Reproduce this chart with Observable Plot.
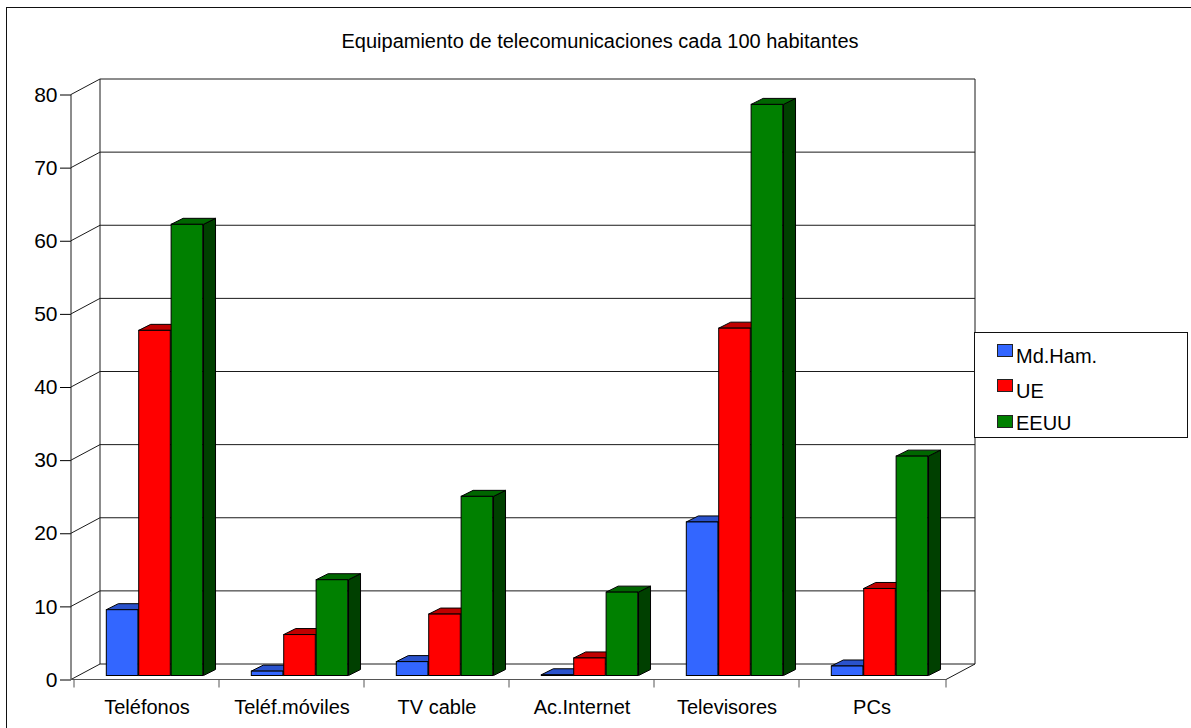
<!DOCTYPE html>
<html>
<head>
<meta charset="utf-8">
<script src="https://cdn.jsdelivr.net/npm/d3@7"></script>
<script src="https://cdn.jsdelivr.net/npm/@observablehq/plot@0.6"></script>
<style>
  html, body { margin: 0; padding: 0; background: #fff; }
  body { font-family: "Liberation Sans", Arial, sans-serif; color: #000; }
  #wrap { position: relative; width: 1191px; height: 728px; overflow: hidden; background: #fff; }
  #border { position: absolute; left: 6px; top: 7px; width: 1300px; height: 900px; border-left: 1px solid #111; border-top: 1px solid #111; pointer-events: none; }
  #title { position: absolute; left: 0; top: 31px; width: 1200px; text-align: center; font-size: 20px; line-height: 20px; white-space: nowrap; }
  #legend { position: absolute; left: 974px; top: 332px; width: 212px; height: 104px; border: 1px solid #111; background: #fff; }
  .sw { position: absolute; left: 22px; width: 14px; height: 11px; border: 1px solid #222; }
  .lt { position: absolute; left: 41px; font-size: 20px; line-height: 20px; white-space: nowrap; }
  #chart { position: absolute; left: 0; top: 0; }
  #chart g[aria-label="y-axis tick label"], #chart g[aria-label="y-axis"] text { font-size: 21px; }
</style>
</head>
<body>
<div id="wrap">
  <div id="chart"></div>
  <div id="border"></div>
  <div id="title"></div>
  <div id="legend"></div>
</div>
<script>
// ---- data ----
const categories = ["Teléfonos", "Teléf.móviles", "TV cable", "Ac.Internet", "Televisores", "PCs"];
const seriesNames = ["Md.Ham.", "UE", "EEUU"];
const mdHam = [9.0, 0.6, 1.9, 0.1, 21.0, 1.3];
const ue = [47.2, 5.6, 8.4, 2.4, 47.5, 11.9];
const eeuu = [61.7, 13.1, 24.5, 11.4, 78.1, 30.0];
const yTicks = [0, 10, 20, 30, 40, 50, 60, 70, 80];
const titleText = "Equipamiento de telecomunicaciones cada 100 habitantes";

// ---- styling ----
const frontColors = ["#3366ff", "#ff0000", "#008000"];
const topColors = ["#2a52cc", "#c00000", "#006600"];
const sideColors = ["#1f3d99", "#990000", "#004000"];

const W = 1191, H = 728;
const mL = 71, mR = 245, mT = 94.5, mB = 48.5;
const DX = 29, DY = -15.5;        // wall depth
const FDX = 8, FDY = -4;          // bar front-face depth
const BDX = 12, BDY = -6;         // bar thickness
const bw = (W - mL - mR) / categories.length;
const barW = bw * 2 / 9;

const seriesValues = [mdHam, ue, eeuu];
const rows = seriesValues.map((vals, s) =>
  categories.map((c, i) => ({category: c, series: seriesNames[s], s, value: vals[i]}))
);

function walls(index, scales, values, dim) {
  const {x, y} = scales;
  const L = dim.marginLeft, R = dim.width - dim.marginRight;
  const y0 = y(0), yMax = y(yTicks[yTicks.length - 1]);
  const g = d3.create("svg:g").attr("fill", "none").attr("stroke", "#1a1a1a").attr("stroke-width", 1);
  const line = (x1, y1, x2, y2, stroke) => {
    const l = g.append("line").attr("x1", x1).attr("y1", y1).attr("x2", x2).attr("y2", y2);
    if (stroke) l.attr("stroke", stroke);
  };
  for (const t of yTicks) {
    const yy = y(t);
    line(L + DX, yy + DY, R + DX, yy + DY);
    line(L, yy, L + DX, yy + DY);
  }
  line(L + DX, y0 + DY, L + DX, yMax + DY);
  line(R + DX, y0 + DY, R + DX, yMax + DY);
  line(L, y0, L, yMax);
  line(L, y0, R, y0, "#555");
  line(R, y0, R + DX, y0 + DY);
  const bounds = categories.map(c => x(c)).concat([R]);
  for (const bx of bounds) line(bx, y0, bx, y0 + 8, "#555");
  return g.node();
}

function facesFor(s) {
  return (index, scales) => {
    const {x, y} = scales;
    const g = d3.create("svg:g").attr("stroke", "#000").attr("stroke-width", 1).attr("stroke-linejoin", "round");
    rows[s].forEach(d => {
      const xl = x(d.category) + bw / 6 + s * barW + FDX;
      const xr = xl + barW;
      const yt = y(d.value) + FDY;
      const yb = y(0) + FDY;
      g.append("path").attr("fill", sideColors[s])
        .attr("d", `M${xr},${yt}L${xr + BDX},${yt + BDY}L${xr + BDX},${yb + BDY}L${xr},${yb}Z`);
      g.append("path").attr("fill", topColors[s])
        .attr("d", `M${xl},${yt}L${xr},${yt}L${xr + BDX},${yt + BDY}L${xl + BDX},${yt + BDY}Z`);
    });
    return g.node();
  };
}

const marks = [walls];
rows.forEach((data, s) => {
  marks.push(facesFor(s));
  marks.push(Plot.barY(data, {
    x: "category",
    y: "value",
    fill: frontColors[s],
    stroke: "#000",
    strokeWidth: 1,
    insetLeft: bw / 6 + s * barW,
    insetRight: bw - (bw / 6 + s * barW) - barW,
    dx: FDX,
    dy: FDY
  }));
});

const chart = Plot.plot({
  width: W,
  height: H,
  marginLeft: mL,
  marginRight: mR,
  marginTop: mT,
  marginBottom: mB,
  style: {fontFamily: "'Liberation Sans', Arial, sans-serif", fontSize: "20px", background: "transparent", color: "#000", overflow: "visible"},
  x: {domain: categories, padding: 0, tickSize: 0, tickPadding: 20, label: null},
  y: {domain: [0, 80], ticks: yTicks, tickSize: 11, tickPadding: 3, label: null, tickFormat: d => String(d)},
  marks
});
document.getElementById("chart").appendChild(chart);

document.getElementById("title").textContent = titleText;

// legend
const legend = document.getElementById("legend");
const swTops = [11, 46, 82];
const textTops = [12.8, 47.8, 80.4];
seriesNames.forEach((name, i) => {
  const sw = document.createElement("div");
  sw.className = "sw";
  sw.style.top = swTops[i] + "px";
  sw.style.background = frontColors[i];
  legend.appendChild(sw);
  const t = document.createElement("div");
  t.className = "lt";
  t.style.top = textTops[i] + "px";
  t.textContent = name;
  legend.appendChild(t);
});
</script>
</body>
</html>
